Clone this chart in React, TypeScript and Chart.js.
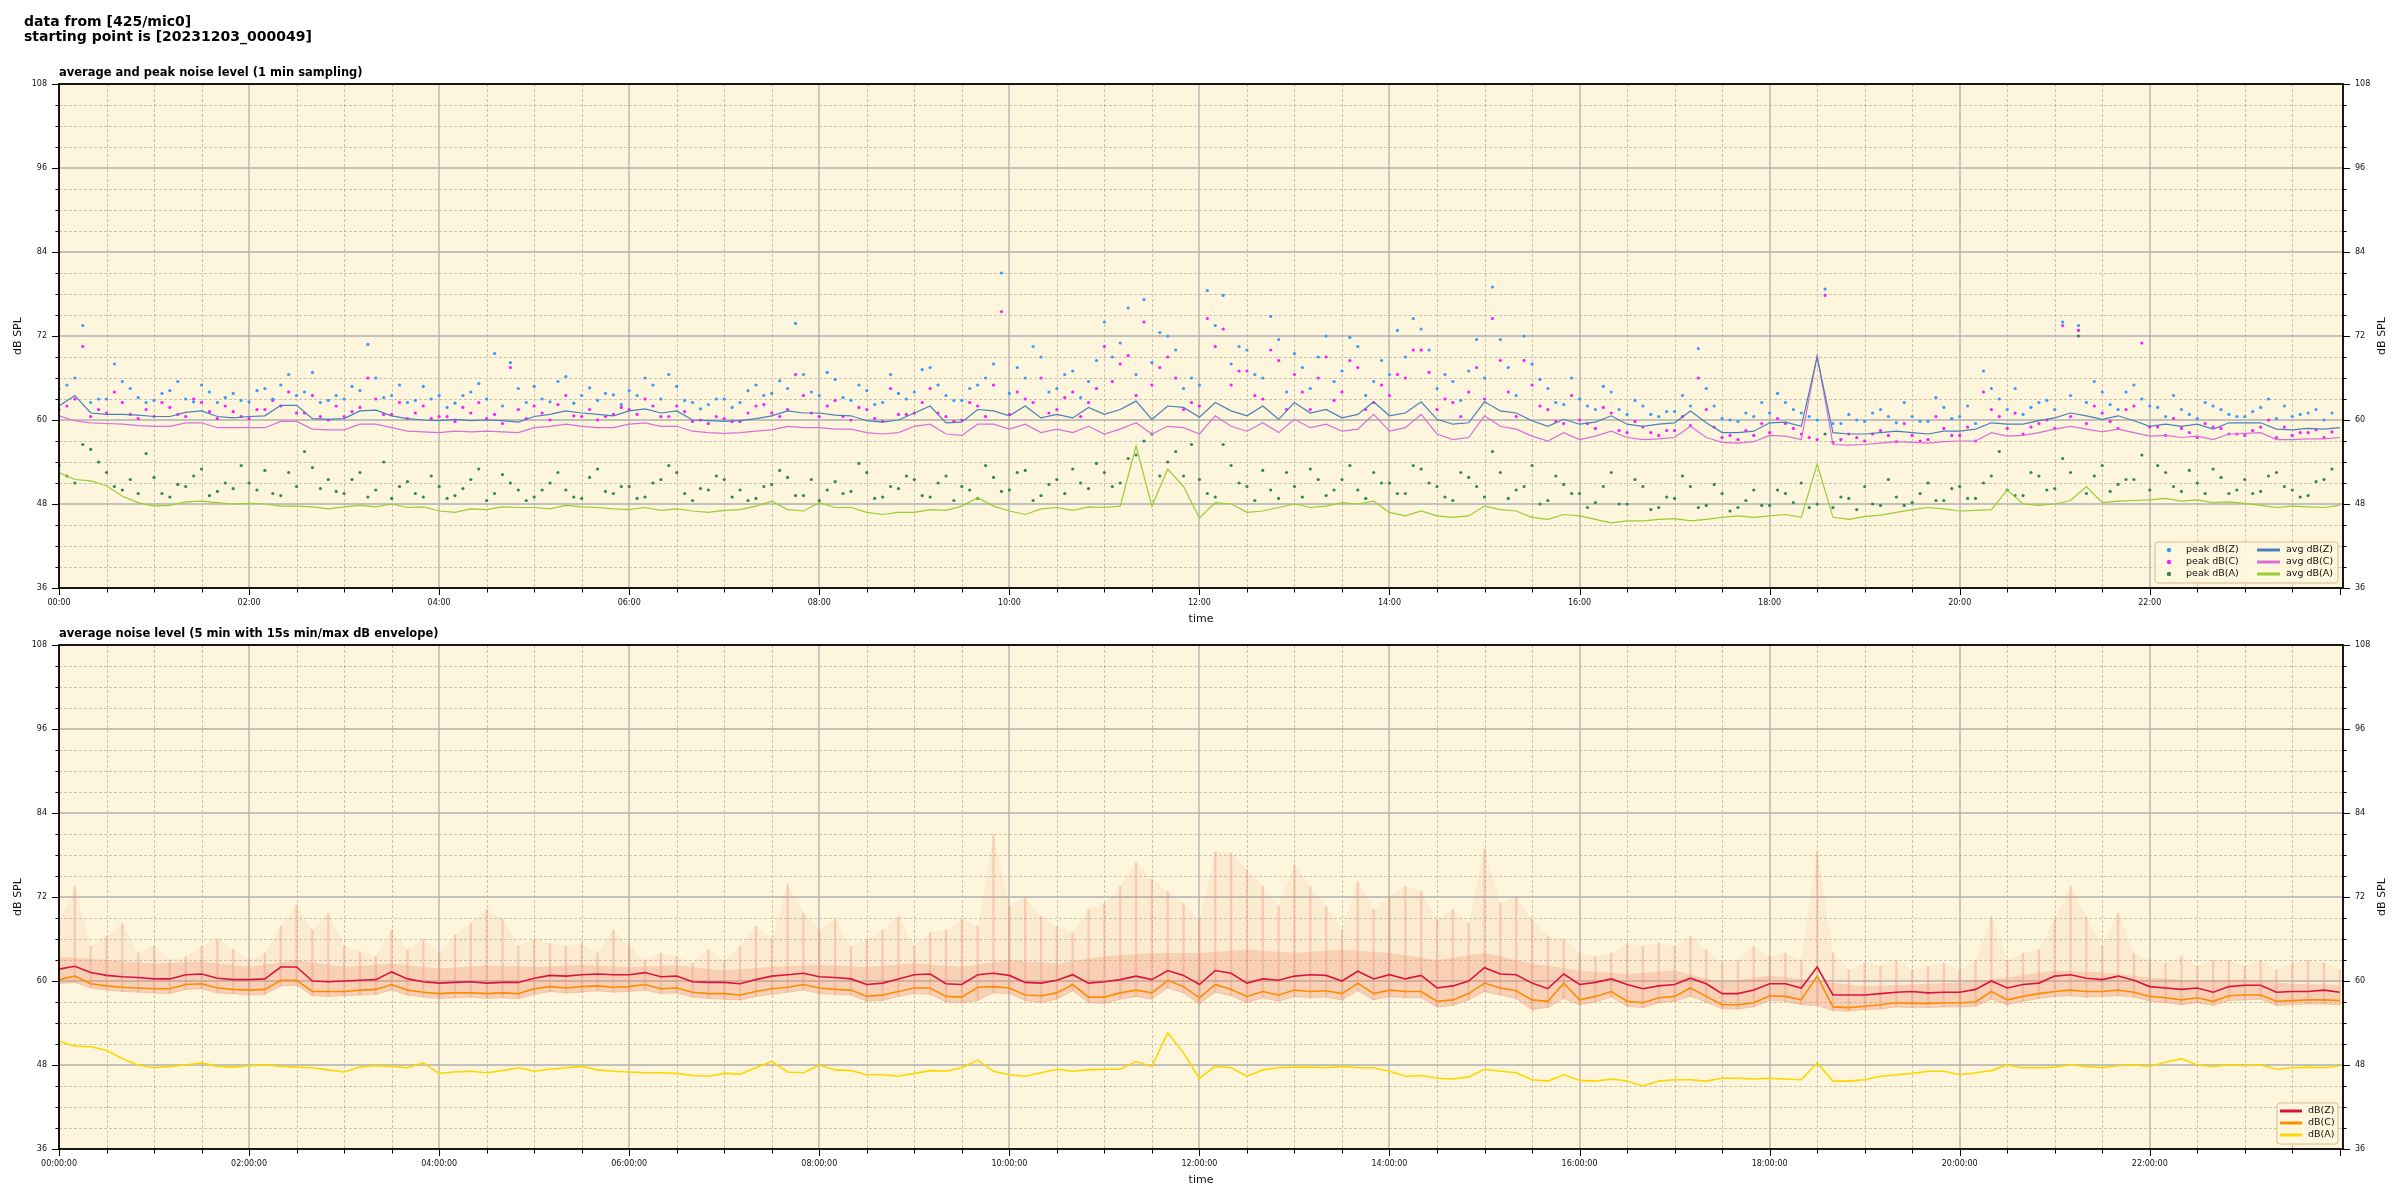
import React, { useEffect, useRef } from "react";
import { Chart, registerables } from "chart.js";
Chart.register(...registerables);

const FONT = '"DejaVu Sans", sans-serif';

// ---------- axes ----------
const X_MIN = 0;
const X_MAX = 1442; // minutes from start
const Y_MIN = 36;
const Y_MAX = 108;
const Y_TICKS = [36, 48, 60, 72, 84, 96, 108];
const X_TICKS = [0, 120, 240, 360, 480, 600, 720, 840, 960, 1080, 1200, 1320];
const X_LABELS_TOP = ["00:00", "02:00", "04:00", "06:00", "08:00", "10:00", "12:00", "14:00", "16:00", "18:00", "20:00", "22:00"];
const X_LABELS_BOTTOM = ["00:00:00", "02:00:00", "04:00:00", "06:00:00", "08:00:00", "10:00:00", "12:00:00", "14:00:00", "16:00:00", "18:00:00", "20:00:00", "22:00:00"];

// ---------- data ----------
const STEP_MIN = 10;
const PEAK_OFFSET_MIN = 5;
const TYP_STEP_MIN = 30;

// top plot: averages, every 10 min
const AVG_Z = [
  62.0, 63.5, 61.0, 60.8, 60.8, 60.7, 60.5, 60.5, 61.1, 61.3, 60.5, 60.3,
  60.5, 60.6, 62.1, 62.1, 60.2, 60.1, 60.2, 61.3, 61.4, 60.6, 60.2, 60.0,
  59.9, 60.1, 59.9, 60.0, 59.9, 59.7, 60.5, 60.8, 61.3, 61.0, 60.8, 60.6,
  61.3, 61.6, 61.0, 61.3, 60.0, 59.9, 59.8, 59.9, 60.2, 60.6, 61.3, 61.0,
  61.0, 60.7, 60.6, 59.9, 59.7, 60.0, 61.0, 62.0, 59.6, 59.7, 61.5, 61.3,
  60.6, 62.0, 60.3, 60.8, 60.3, 61.8, 60.8, 61.5, 62.7, 60.1, 62.0, 61.8,
  60.4, 62.5, 61.3, 60.6, 62.0, 60.1, 62.5, 61.0, 61.5, 60.3, 60.8, 62.6,
  60.6, 61.0, 62.6, 60.1, 59.4, 59.6, 62.6, 61.3, 61.0, 59.9, 59.1, 60.1,
  59.4, 59.7, 60.6, 59.4, 59.1, 59.4, 59.6, 61.3, 59.6, 58.2, 58.2, 58.4,
  59.6, 59.7, 59.1, 69.0, 58.2, 58.0, 58.0, 58.2, 58.4, 58.2, 58.0, 58.4,
  58.4, 58.7, 59.6, 59.4, 59.4, 59.9, 60.3, 61.0, 60.6, 60.1, 60.6, 59.9,
  59.1, 59.4, 59.1, 59.4, 58.7, 59.6, 59.6, 59.6, 58.7, 58.6, 58.8, 58.7,
  58.9,
];
const AVG_C = [
  60.6, 59.9, 59.6, 59.5, 59.4, 59.2, 59.1, 59.1, 59.6, 59.6, 58.9, 58.9,
  58.9, 58.9, 59.8, 59.8, 58.7, 58.6, 58.6, 59.4, 59.4, 58.9, 58.4, 58.3,
  58.2, 58.4, 58.3, 58.4, 58.3, 58.2, 58.9, 59.1, 59.4, 59.1, 58.9, 58.9,
  59.4, 59.6, 59.1, 59.1, 58.4, 58.2, 58.1, 58.2, 58.4, 58.6, 59.1, 58.9,
  58.9, 58.7, 58.7, 58.2, 58.0, 58.2, 59.1, 59.4, 58.0, 57.8, 59.4, 59.4,
  58.7, 59.4, 58.2, 58.7, 58.2, 59.1, 58.0, 58.7, 59.6, 58.0, 59.1, 58.9,
  58.0, 60.6, 59.1, 58.4, 59.6, 58.2, 60.1, 58.9, 59.4, 58.4, 58.7, 60.8,
  58.4, 58.9, 60.8, 58.0, 57.2, 57.5, 60.6, 59.1, 58.7, 57.7, 57.0, 58.2,
  57.2, 57.7, 58.4, 57.5, 57.2, 57.3, 57.5, 59.1, 57.5, 56.8, 56.7, 56.9,
  57.8, 57.7, 57.2, 69.2, 56.5, 56.4, 56.5, 56.7, 56.9, 56.8, 56.7, 56.9,
  57.0, 57.0, 58.2, 57.7, 57.8, 58.2, 58.7, 59.1, 58.7, 58.3, 58.7, 58.2,
  57.7, 57.8, 57.5, 57.7, 57.2, 58.0, 58.1, 58.2, 57.2, 57.2, 57.3, 57.3,
  57.5,
];
const AVG_A = [
  52.5, 51.5, 51.3, 50.6, 49.1, 48.2, 47.7, 47.8, 48.3, 48.4, 48.2, 48.0,
  48.1, 48.0, 47.7, 47.7, 47.6, 47.3, 47.6, 47.8, 47.6, 48.0, 47.5, 47.6,
  47.0, 46.8, 47.3, 47.2, 47.6, 47.5, 47.5, 47.3, 47.8, 47.6, 47.5, 47.3,
  47.2, 47.5, 47.1, 47.3, 47.0, 46.8, 47.1, 47.2, 47.7, 48.4, 47.2, 47.0,
  48.2, 47.5, 47.5, 46.8, 46.5, 46.8, 46.8, 47.2, 47.1, 47.7, 48.9, 47.7,
  47.0, 46.5, 47.3, 47.5, 47.1, 47.6, 47.5, 47.7, 56.3, 47.7, 53.0, 50.5,
  46.0, 48.2, 48.0, 46.8, 47.0, 47.5, 48.0, 47.5, 47.7, 48.2, 48.0, 48.4,
  46.8, 46.3, 47.0, 46.3, 46.1, 46.3, 47.7, 47.2, 47.0, 46.1, 45.8, 46.5,
  46.3, 45.8, 45.3, 45.6, 45.6, 45.8, 45.9, 45.6, 45.8, 46.1, 46.3, 46.1,
  46.3, 46.5, 46.1, 53.7, 46.1, 45.8, 46.2, 46.4, 46.8, 47.2, 47.5, 47.3,
  47.0, 47.1, 47.2, 50.0, 48.0, 47.8, 48.0, 48.5, 50.5, 48.2, 48.4, 48.5,
  48.6, 48.8, 48.4, 48.6, 48.2, 48.3, 48.1, 47.8, 47.5, 47.7, 47.6, 47.5,
  47.8,
];

// top plot: peaks, two samples per 10 min (at +5 min and on the 10-min mark)
const PEAK_Z = [
  65.0, 73.5, 63.0, 68.0, 64.5, 62.5, 63.8, 65.5, 62.6, 64.0, 63.2, 62.8,
  64.2, 63.0, 66.5, 64.0, 62.5, 63.5, 64.8, 70.8, 63.2, 65.0, 62.8, 63.0,
  61.8, 63.5, 65.2, 69.5, 68.2, 62.5, 63.0, 65.5, 62.4, 64.6, 63.8, 62.2,
  63.5, 65.0, 66.5, 62.8, 61.6, 63.0, 61.8, 64.2, 63.5, 65.6, 73.8, 64.0,
  66.8, 63.2, 65.0, 62.2, 66.5, 63.0, 67.2, 65.0, 62.8, 64.5, 66.0, 81.0,
  67.5, 70.5, 64.0, 66.5, 63.2, 68.5, 69.0, 76.0, 77.2, 72.5, 70.0, 66.0,
  78.5, 77.8, 70.5, 66.5, 74.8, 64.0, 67.5, 69.0, 65.5, 71.8, 63.5, 68.5,
  72.8, 74.5, 70.0, 66.5, 62.8, 71.5, 79.0, 67.5, 72.0, 65.8, 62.5, 66.0,
  62.0, 64.8, 61.5, 62.8, 60.8, 61.2, 63.5, 70.2, 62.0, 60.0, 61.0, 62.5,
  63.8, 61.5, 60.5, 78.7, 59.5, 60.0, 61.0, 60.5, 62.5, 59.8, 63.2, 60.2,
  62.0, 67.0, 63.0, 64.5, 61.8, 62.8, 74.0, 73.5, 65.5, 62.2, 64.0, 63.0,
  61.8, 63.5, 60.8, 62.5, 61.5, 60.5, 61.2, 63.0, 62.0, 60.8, 61.5, 61.0,
];
const PEAK_Z2 = [
  64.5, 66.0, 62.5, 63.0, 65.5, 63.2, 62.8, 64.2, 63.0, 65.0, 62.5, 63.8,
  62.6, 64.5, 65.0, 63.5, 66.8, 62.8, 63.0, 64.2, 66.0, 63.5, 62.5, 64.8,
  63.5, 62.4, 64.0, 63.0, 62.0, 64.5, 64.8, 62.6, 66.2, 63.5, 62.8, 63.6,
  64.2, 66.0, 63.0, 64.8, 62.5, 62.2, 63.0, 62.5, 65.0, 63.8, 64.5, 66.5,
  63.5, 65.8, 62.8, 64.2, 62.5, 63.8, 64.0, 67.5, 63.5, 62.8, 65.0, 68.0,
  63.8, 66.0, 69.0, 64.5, 67.0, 65.5, 74.0, 71.0, 66.5, 68.2, 72.0, 64.5,
  65.0, 73.5, 68.0, 70.0, 66.0, 71.5, 69.5, 64.5, 72.0, 67.0, 70.5, 65.5,
  66.5, 69.0, 73.0, 64.5, 65.5, 67.0, 66.0, 71.5, 63.5, 68.0, 64.5, 62.2,
  63.0, 61.5, 64.0, 60.8, 62.0, 60.5, 61.2, 62.0, 64.5, 60.2, 59.8, 60.5,
  61.0, 62.5, 61.0, 60.0, 59.5, 60.8, 59.8, 61.5, 59.6, 60.5, 59.8, 61.8,
  60.5, 59.5, 64.5, 61.5, 60.8, 62.5, 61.5, 63.5, 62.5, 64.0, 61.5, 65.0,
  62.0, 60.5, 61.5, 60.2, 62.0, 60.8, 60.5, 61.8, 60.2, 60.5, 61.0, 60.0,
];
const PEAK_C = [
  62.0, 70.5, 61.5, 64.0, 60.8, 61.5, 62.5, 60.8, 63.0, 61.2, 62.0, 60.5,
  61.5, 62.8, 64.0, 61.0, 60.5, 62.0, 61.2, 66.0, 60.8, 62.5, 61.0, 60.2,
  60.5, 61.8, 62.5, 60.8, 67.5, 60.2, 61.0, 62.2, 60.6, 61.5, 60.5, 61.8,
  60.8, 62.0, 60.5, 61.2, 60.0, 60.5, 59.8, 61.0, 62.2, 60.5, 66.5, 61.0,
  62.0, 60.5, 61.8, 60.2, 64.5, 60.8, 62.5, 61.0, 59.8, 62.5, 60.5, 75.5,
  64.0, 62.5, 61.0, 63.2, 60.5, 64.5, 65.5, 69.2, 74.0, 67.5, 66.0, 62.5,
  74.5, 73.0, 67.0, 63.5, 70.0, 61.5, 64.0, 66.0, 62.8, 68.5, 61.5, 65.0,
  66.5, 70.0, 66.8, 63.0, 60.5, 67.5, 74.5, 64.0, 68.5, 62.0, 59.8, 63.5,
  59.5, 61.8, 58.5, 59.8, 58.2, 58.5, 60.5, 66.0, 59.0, 57.8, 58.5, 59.5,
  60.2, 58.8, 57.5, 77.8, 57.2, 57.5, 58.0, 57.8, 59.5, 57.0, 60.5, 57.8,
  59.0, 64.0, 60.5, 61.0, 59.0, 60.0, 73.5, 72.8, 62.0, 59.8, 61.5, 71.0,
  59.0, 60.2, 58.2, 59.5, 58.8, 58.0, 58.5, 60.0, 59.0, 58.2, 58.6, 58.3,
];
const PEAK_C2 = [
  61.5, 63.0, 60.5, 61.0, 62.5, 60.2, 60.5, 61.8, 60.5, 62.5, 60.2, 61.2,
  60.2, 61.5, 62.0, 61.0, 63.5, 60.0, 60.5, 61.8, 63.0, 60.8, 60.2, 62.0,
  60.5, 59.8, 61.0, 60.2, 59.5, 61.5, 62.0, 60.0, 63.5, 60.5, 60.0, 60.8,
  61.5, 63.0, 60.5, 62.0, 59.8, 59.5, 60.2, 59.8, 62.0, 61.0, 61.5, 63.5,
  60.5, 62.8, 60.0, 61.5, 59.8, 60.8, 61.0, 64.5, 60.5, 60.0, 62.0, 65.0,
  60.8, 63.0, 66.0, 61.5, 64.0, 62.5, 70.5, 68.0, 63.5, 65.0, 69.0, 61.5,
  62.0, 70.5, 65.0, 67.0, 63.0, 68.5, 66.5, 61.5, 69.0, 64.0, 67.5, 62.5,
  63.5, 66.0, 70.0, 61.5, 62.5, 64.0, 63.0, 68.5, 60.5, 65.0, 61.5, 59.5,
  60.0, 58.8, 61.0, 58.2, 59.0, 57.8, 58.5, 59.2, 61.5, 57.5, 57.2, 57.8,
  58.2, 59.5, 58.0, 57.2, 56.8, 58.0, 57.0, 58.5, 56.9, 57.8, 57.2, 58.8,
  57.8, 57.0, 61.5, 58.8, 58.0, 59.5, 58.8, 60.5, 59.5, 61.0, 58.8, 62.0,
  59.0, 57.8, 58.8, 57.5, 59.0, 58.0, 57.8, 59.0, 57.5, 57.8, 58.2, 57.5,
];
const PEAK_A = [
  52.0, 56.5, 54.0, 50.5, 51.5, 55.2, 49.5, 50.8, 52.0, 49.2, 51.0, 53.5,
  50.0, 49.5, 52.5, 55.5, 50.2, 49.8, 51.5, 49.0, 54.0, 50.5, 49.5, 52.0,
  48.8, 50.2, 53.0, 49.5, 51.0, 48.5, 50.0, 52.5, 49.0, 51.8, 49.8, 50.5,
  48.8, 51.0, 53.5, 49.5, 50.2, 52.0, 49.0, 48.5, 50.5, 52.8, 49.2, 51.5,
  50.0, 49.5, 53.8, 48.8, 50.5, 52.0, 49.2, 51.0, 48.5, 50.0, 53.5, 49.8,
  52.5, 48.5, 50.8, 49.5, 51.0, 53.8, 50.5, 54.5, 57.0, 52.0, 55.5, 56.5,
  49.5, 56.5, 51.0, 48.5, 50.0, 52.5, 49.0, 51.5, 50.0, 53.5, 48.8, 51.0,
  49.5, 53.5, 51.0, 49.0, 52.5, 50.5, 55.5, 48.8, 50.5, 48.0, 52.0, 49.5,
  47.5, 50.5, 48.0, 51.5, 47.2, 49.0, 52.0, 47.5, 50.8, 47.0, 48.5, 47.8,
  50.0, 48.2, 47.5, 58.0, 49.0, 47.2, 48.0, 51.5, 47.8, 49.5, 48.5, 50.2,
  48.8, 51.0, 55.5, 49.2, 52.5, 50.0, 54.5, 72.0, 52.0, 49.8, 51.5, 55.0,
  53.5, 50.5, 52.8, 49.5, 51.8, 50.0, 49.5, 52.0, 50.5, 49.0, 51.2, 53.0,
];
const PEAK_A2 = [
  53.5, 51.0, 55.8, 52.5, 50.0, 49.5, 51.8, 49.0, 50.5, 53.0, 49.8, 50.2,
  51.0, 52.8, 49.2, 50.5, 53.2, 51.5, 49.5, 52.5, 50.0, 48.8, 51.2, 49.0,
  50.5, 49.2, 51.5, 48.5, 52.2, 50.0, 49.0, 51.0, 50.0, 48.8, 53.0, 49.5,
  50.5, 49.0, 51.5, 52.5, 48.5, 50.0, 51.5, 50.0, 48.8, 50.8, 51.8, 49.2,
  48.5, 51.2, 49.8, 52.5, 49.0, 50.2, 51.5, 49.0, 52.0, 50.5, 48.8, 51.8,
  50.0, 52.8, 49.2, 51.5, 53.0, 50.2, 52.5, 51.0, 55.0, 58.0, 54.0, 52.0,
  51.5, 49.0, 53.5, 50.5, 52.8, 48.8, 50.5, 53.0, 49.2, 51.5, 50.0, 52.5,
  51.0, 49.5, 53.0, 50.5, 48.5, 51.8, 49.0, 52.5, 50.0, 53.5, 48.5, 50.8,
  49.5, 48.2, 52.5, 48.0, 50.5, 47.5, 48.8, 50.5, 47.8, 49.5, 47.5, 50.0,
  47.8, 49.5, 51.0, 48.0, 47.5, 48.8, 50.5, 47.8, 49.0, 48.2, 51.0, 48.5,
  50.5, 48.8, 52.0, 50.0, 49.2, 52.0, 50.2, 52.5, 49.5, 53.5, 50.8, 51.5,
  50.0, 52.5, 49.8, 51.0, 53.0, 49.5, 51.5, 49.8, 52.5, 50.0, 49.2, 51.5,
];

// bottom plot: 5-min averages, every 10 min
const DB_Z = [
  61.7, 62.1, 61.2, 60.8, 60.6, 60.5, 60.3, 60.3, 60.9, 61.0, 60.4, 60.2,
  60.2, 60.3, 62.0, 62.0, 60.0, 59.9, 60.0, 60.1, 60.2, 61.3, 60.3, 59.9,
  59.7, 59.8, 59.9, 59.7, 59.8, 59.8, 60.4, 60.8, 60.7, 60.9, 61.0, 60.9,
  60.9, 61.2, 60.6, 60.7, 59.9, 59.8, 59.8, 59.6, 60.2, 60.7, 60.9, 61.1,
  60.6, 60.5, 60.3, 59.5, 59.7, 60.3, 60.9, 61.0, 59.6, 59.5, 60.9, 61.1,
  60.8, 59.8, 59.7, 60.1, 60.9, 59.7, 59.9, 60.2, 60.7, 60.2, 61.5, 60.8,
  59.5, 61.5, 61.1, 59.7, 60.3, 60.1, 60.7, 60.9, 60.8, 60.0, 61.4, 60.3,
  60.9, 60.3, 60.8, 59.0, 59.3, 60.0, 61.9, 61.0, 60.9, 59.7, 58.9, 61.0,
  59.5, 59.8, 60.3, 59.5, 58.9, 59.3, 59.5, 60.4, 59.6, 58.2, 58.2, 58.7,
  59.6, 59.6, 59.0, 62.0, 58.0, 58.0, 58.0, 58.2, 58.4, 58.5, 58.3, 58.4,
  58.4, 58.8, 60.0, 59.0, 59.5, 59.7, 60.7, 60.9, 60.4, 60.2, 60.7, 60.1,
  59.2, 59.0, 58.8, 59.0, 58.4, 59.2, 59.4, 59.4, 58.4, 58.5, 58.5, 58.7,
  58.4,
];
const DB_C = [
  60.2, 60.7, 59.6, 59.3, 59.1, 59.0, 58.9, 58.9, 59.5, 59.6, 59.0, 58.8,
  58.7, 58.8, 60.1, 60.1, 58.5, 58.5, 58.5, 58.7, 58.8, 59.5, 58.7, 58.4,
  58.2, 58.3, 58.3, 58.2, 58.3, 58.2, 58.9, 59.2, 59.0, 59.2, 59.3, 59.1,
  59.2, 59.5, 58.9, 59.0, 58.4, 58.2, 58.2, 58.0, 58.5, 58.9, 59.1, 59.5,
  59.0, 58.8, 58.7, 57.8, 58.0, 58.5, 59.0, 59.0, 57.8, 57.7, 59.1, 59.2,
  59.0, 58.0, 57.9, 58.3, 59.5, 57.7, 57.7, 58.3, 58.7, 58.3, 60.1, 59.2,
  57.6, 59.5, 58.8, 57.8, 58.5, 58.0, 58.7, 58.5, 58.6, 58.2, 59.7, 58.2,
  58.7, 58.5, 58.5, 57.1, 57.3, 58.2, 59.7, 59.0, 58.6, 57.3, 57.1, 59.7,
  57.3, 57.8, 58.5, 57.1, 56.9, 57.6, 57.8, 59.0, 57.8, 56.6, 56.6, 56.9,
  57.9, 57.8, 57.3, 60.7, 56.3, 56.2, 56.4, 56.6, 56.9, 56.8, 56.8, 56.9,
  56.9, 57.0, 58.5, 57.3, 57.8, 58.2, 58.5, 58.7, 58.5, 58.5, 58.7, 58.4,
  57.8, 57.6, 57.3, 57.6, 57.1, 57.9, 58.0, 58.0, 57.1, 57.2, 57.3, 57.3,
  57.2,
];
const DB_A = [
  51.4, 50.7, 50.6, 50.1, 48.9, 48.0, 47.6, 47.8, 48.0, 48.3, 47.8, 47.7,
  47.9, 48.0, 47.8, 47.7, 47.6, 47.3, 47.0, 47.7, 47.9, 47.8, 47.6, 48.3,
  46.8, 47.0, 47.1, 46.9, 47.2, 47.6, 47.1, 47.4, 47.6, 47.8, 47.3, 47.1,
  47.0, 46.9, 46.9, 46.8, 46.5, 46.4, 46.8, 46.7, 47.6, 48.5, 47.0, 46.9,
  48.0, 47.3, 47.2, 46.6, 46.6, 46.4, 46.8, 47.2, 47.1, 47.6, 48.7, 47.1,
  46.6, 46.4, 46.9, 47.4, 47.1, 47.3, 47.4, 47.4, 48.5, 47.8, 52.6, 49.7,
  46.1, 47.8, 47.6, 46.4, 47.3, 47.6, 47.7, 47.7, 47.6, 47.8, 47.6, 47.6,
  47.1, 46.4, 46.5, 46.1, 46.0, 46.3, 47.4, 47.1, 46.9, 45.9, 45.7, 46.6,
  45.8, 45.7, 46.0, 45.7, 45.0, 45.7, 45.9, 45.9, 45.7, 46.1, 46.1, 46.0,
  46.1, 46.0, 45.9, 48.3, 45.7, 45.7, 45.9, 46.4, 46.6, 46.8, 47.1, 47.1,
  46.6, 46.9, 47.2, 48.0, 47.6, 47.6, 47.7, 48.0, 47.8, 47.6, 47.9, 48.0,
  47.8, 48.4, 48.9, 48.0, 47.8, 48.0, 47.9, 48.0, 47.4, 47.6, 47.7, 47.6,
  47.9,
];
// bottom plot: 15 s min/max envelope (highest spike and lowest value per 10 min)
const ENV_MAX = [
  68.3, 73.5, 65.0, 66.4, 68.2, 64.0, 65.0, 63.0, 63.5, 65.0, 66.0, 64.5,
  63.0, 64.0, 67.8, 70.9, 67.3, 69.7, 65.0, 64.2, 63.5, 67.3, 64.5, 66.0,
  64.0, 66.6, 68.3, 70.2, 68.8, 65.0, 66.0, 65.4, 65.0, 65.4, 64.0, 67.3,
  65.0, 63.0, 64.0, 63.5, 62.6, 64.5, 63.0, 65.0, 67.8, 66.0, 73.8, 69.7,
  67.3, 68.8, 65.0, 66.0, 67.3, 69.2, 65.0, 66.9, 67.3, 68.8, 67.8, 80.9,
  70.7, 71.9, 69.2, 67.8, 66.9, 70.2, 71.1, 73.5, 76.9, 74.5, 72.8, 71.1,
  68.8, 78.5, 78.3, 75.9, 73.5, 70.7, 76.6, 73.5, 70.7, 67.3, 74.2, 70.2,
  72.1, 73.5, 72.8, 68.8, 70.2, 68.3, 78.9, 71.1, 72.1, 68.8, 66.4, 66.0,
  64.0, 63.5, 64.0, 65.4, 65.0, 65.4, 65.0, 66.4, 64.5, 62.6, 63.0, 65.0,
  63.5, 64.0, 63.0, 78.5, 64.0, 61.6, 62.6, 62.1, 63.0, 61.6, 62.1, 62.6,
  61.6, 63.0, 69.2, 63.0, 64.0, 64.5, 68.8, 73.5, 69.2, 65.0, 69.7, 64.0,
  63.0, 62.6, 63.5, 62.1, 63.0, 63.0, 62.1, 63.0, 61.6, 62.6, 63.0, 62.6,
  61.6,
];
const ENV_MIN = [
  59.6, 59.8, 59.0, 58.7, 58.5, 58.4, 58.3, 58.2, 58.8, 58.9, 58.3, 58.2,
  58.0, 58.1, 59.3, 59.4, 57.9, 57.8, 57.9, 58.0, 58.1, 58.7, 58.0, 57.7,
  57.5, 57.6, 57.7, 57.5, 57.6, 57.5, 58.1, 58.5, 58.3, 58.4, 58.6, 58.4,
  58.5, 58.7, 58.2, 58.3, 57.7, 57.5, 57.4, 57.3, 57.8, 58.1, 58.4, 58.7,
  58.2, 58.1, 58.0, 57.1, 57.2, 57.8, 58.2, 58.1, 57.0, 56.9, 57.2, 58.3,
  58.2, 57.2, 56.9, 57.4, 58.6, 56.9, 56.8, 57.4, 57.8, 57.4, 59.0, 58.3,
  56.7, 58.4, 57.9, 56.9, 57.6, 57.1, 57.8, 57.6, 57.7, 57.3, 58.6, 57.3,
  57.8, 57.6, 57.6, 56.3, 56.5, 57.3, 58.5, 58.0, 57.5, 55.9, 56.2, 57.5,
  56.6, 57.0, 57.7, 56.4, 56.2, 56.9, 57.1, 57.8, 57.0, 56.0, 56.0, 56.3,
  57.2, 57.1, 56.6, 56.5, 55.8, 55.7, 55.9, 56.0, 56.3, 56.2, 56.2, 56.3,
  56.3, 56.4, 57.4, 56.6, 57.1, 57.5, 57.8, 57.9, 57.7, 57.8, 57.9, 57.7,
  57.1, 56.9, 56.6, 56.9, 56.5, 57.2, 57.3, 57.4, 56.5, 56.6, 56.7, 56.7,
  56.6,
];
// upper edge of the dense part of the envelope, every 30 min
const ENV_TYP = [
  63.5, 63.0, 62.5, 62.8, 62.0, 63.0, 62.0, 62.5, 61.8, 62.2, 62.0, 62.3,
  62.0, 62.2, 61.5, 62.0, 62.3, 62.0, 62.5, 62.0, 63.0, 62.5, 63.5, 64.0,
  64.0, 64.5, 64.0, 64.5, 64.0, 63.0, 64.0, 62.5, 61.5, 61.0, 61.5, 59.8,
  60.8, 60.0, 59.2, 59.5, 59.8, 60.5, 61.5, 61.2, 60.5, 60.0, 60.2, 59.6,
  59.4,
];

const TIMES = AVG_Z.map((_, i) => i * STEP_MIN);
const PEAK_TIMES = PEAK_Z.map((_, i) => PEAK_OFFSET_MIN + i * STEP_MIN);
const PEAK_TIMES2 = PEAK_Z2.map((_, i) => i * STEP_MIN);
const TYP_TIMES = ENV_TYP.map((_, i) => i * TYP_STEP_MIN);

// ---------- styles ----------
const BG = "#fdf5dc";
const MAJOR_GRID = "#b0b0b0";
const MINOR_GRID = "rgba(160,155,145,0.7)";
const C_PEAK_Z = "#3a9bff";
const C_PEAK_C = "#ff1aff";
const C_PEAK_A = "#2e8b57";
const C_AVG_Z = "#4a80b6";
const C_AVG_C = "#da70d6";
const C_AVG_A = "#9acd32";
const C_DB_Z = "#dc143c";
const C_DB_C = "#ff8c00";
const C_DB_A = "#ffd700";

const pts = (xs: number[], ys: number[]) => ys.map((y, i) => ({ x: xs[i], y }));

type LegendItem = { kind: "dot" | "line"; color: string; text: string; mx: number; tx: number; row: number };
type LegendSpec = { w: number; h: number; mr: number; mb: number; lineW: number; rows: number[]; items: LegendItem[] };

function makeDecor(legend: LegendSpec) {
  return {
    id: "decor",
    beforeDatasetsDraw(chart: any) {
      const { ctx, chartArea: a } = chart;
      const xs = chart.scales.x;
      const ys = chart.scales.y;
      ctx.save();
      ctx.fillStyle = BG;
      ctx.fillRect(a.left, a.top, a.right - a.left, a.bottom - a.top);
      ctx.lineWidth = 0.8;
      ctx.strokeStyle = MINOR_GRID;
      ctx.setLineDash([3, 2]);
      ctx.beginPath();
      for (let v = Y_MIN + 3; v < Y_MAX; v += 3) {
        if ((v - Y_MIN) % 12 === 0) continue;
        const p = Math.round(ys.getPixelForValue(v)) + 0.5;
        ctx.moveTo(a.left, p);
        ctx.lineTo(a.right, p);
      }
      for (let t = 30; t < X_MAX; t += 30) {
        if (t % 120 === 0) continue;
        const p = Math.round(xs.getPixelForValue(t)) + 0.5;
        ctx.moveTo(p, a.top);
        ctx.lineTo(p, a.bottom);
      }
      ctx.stroke();
      ctx.setLineDash([]);
      ctx.lineWidth = 1.3;
      ctx.strokeStyle = MAJOR_GRID;
      ctx.beginPath();
      for (const v of Y_TICKS) {
        if (v === Y_MIN || v === Y_MAX) continue;
        const p = Math.round(ys.getPixelForValue(v));
        ctx.moveTo(a.left, p);
        ctx.lineTo(a.right, p);
      }
      for (const t of X_TICKS) {
        if (t === 0) continue;
        const p = Math.round(xs.getPixelForValue(t));
        ctx.moveTo(p, a.top);
        ctx.lineTo(p, a.bottom);
      }
      ctx.stroke();
      ctx.restore();
    },
    afterDatasetsDraw(chart: any) {
      const { ctx, chartArea: a } = chart;
      const xs = chart.scales.x;
      const ys = chart.scales.y;
      ctx.save();
      ctx.strokeStyle = "#000";
      ctx.lineWidth = 1.8;
      ctx.strokeRect(a.left, a.top, a.right - a.left, a.bottom - a.top);
      ctx.lineWidth = 1;
      ctx.beginPath();
      for (let v = Y_MIN; v <= Y_MAX; v += 3) {
        const major = (v - Y_MIN) % 12 === 0;
        const len = major ? 7 : 3.5;
        const p = Math.round(ys.getPixelForValue(v)) + 0.5;
        ctx.moveTo(a.left - len, p);
        ctx.lineTo(a.left, p);
        ctx.moveTo(a.right, p);
        ctx.lineTo(a.right + len, p);
      }
      for (let t = 0; t < X_MAX; t += 30) {
        const major = t % 120 === 0;
        const len = major ? 7 : 4.5;
        const p = Math.round(xs.getPixelForValue(t)) + 0.5;
        ctx.moveTo(p, a.bottom);
        ctx.lineTo(p, a.bottom + len);
      }
      ctx.stroke();

      ctx.fillStyle = "#111";
      ctx.font = `11px ${FONT}`;
      ctx.textAlign = "center";
      ctx.textBaseline = "middle";
      ctx.fillText("time", (a.left + a.right) / 2, a.bottom + 31.5);
      const midY = (a.top + a.bottom) / 2;
      ctx.save();
      ctx.translate(18, midY);
      ctx.rotate(-Math.PI / 2);
      ctx.fillText("dB SPL", 0, 0);
      ctx.restore();
      ctx.save();
      ctx.translate(2382, midY);
      ctx.rotate(-Math.PI / 2);
      ctx.fillText("dB SPL", 0, 0);
      ctx.restore();

      const bx = a.right - legend.mr - legend.w;
      const by = a.bottom - legend.mb - legend.h;
      ctx.beginPath();
      const r = 3;
      ctx.moveTo(bx + r, by);
      ctx.arcTo(bx + legend.w, by, bx + legend.w, by + legend.h, r);
      ctx.arcTo(bx + legend.w, by + legend.h, bx, by + legend.h, r);
      ctx.arcTo(bx, by + legend.h, bx, by, r);
      ctx.arcTo(bx, by, bx + legend.w, by, r);
      ctx.closePath();
      ctx.fillStyle = "rgba(255,247,222,0.85)";
      ctx.fill();
      ctx.strokeStyle = "rgba(215,180,130,0.9)";
      ctx.lineWidth = 1;
      ctx.stroke();
      ctx.font = `9.5px ${FONT}`;
      ctx.textAlign = "left";
      ctx.textBaseline = "middle";
      for (const it of legend.items) {
        const cy = by + legend.rows[it.row];
        if (it.kind === "dot") {
          ctx.fillStyle = it.color;
          ctx.beginPath();
          ctx.arc(bx + it.mx, cy, 2.2, 0, Math.PI * 2);
          ctx.fill();
        } else {
          ctx.strokeStyle = it.color;
          ctx.lineWidth = 3;
          ctx.beginPath();
          ctx.moveTo(bx + it.mx, cy);
          ctx.lineTo(bx + it.mx + legend.lineW, cy);
          ctx.stroke();
        }
        ctx.fillStyle = "#111";
        ctx.fillText(it.text, bx + it.tx, cy);
      }
      ctx.restore();
    },
  };
}

function scalesFor(labels: string[], xHeight: number) {
  const yCommon = (pos: "left" | "right", w: number) => ({
    type: "linear" as const,
    position: pos,
    min: Y_MIN,
    max: Y_MAX,
    grid: { display: false, drawTicks: false },
    border: { display: false },
    afterBuildTicks: (s: any) => {
      s.ticks = Y_TICKS.map((v) => ({ value: v }));
    },
    afterFit: (s: any) => {
      s.width = w;
    },
    ticks: {
      padding: 12,
      color: "#111",
      font: { family: FONT, size: 8 },
      callback: (v: any) => String(v),
    },
  });
  return {
    x: {
      type: "linear" as const,
      min: X_MIN,
      max: X_MAX,
      offset: false,
      grid: { display: false, drawTicks: false, offset: false },
      border: { display: false },
      afterBuildTicks: (s: any) => {
        s.ticks = X_TICKS.map((v) => ({ value: v }));
      },
      afterFit: (s: any) => {
        s.height = xHeight;
      },
      ticks: {
        autoSkip: false,
        maxRotation: 0,
        padding: 10.5,
        color: "#111",
        font: { family: FONT, size: 8 },
        callback: (_v: any, i: number) => labels[i] ?? "",
      },
    },
    y: yCommon("left", 59),
    y2: yCommon("right", 57),
  };
}

const baseOptions = (padTop: number, labels: string[], xHeight: number) => ({
  responsive: false,
  animation: false,
  devicePixelRatio: 1,
  layout: { padding: { top: padTop, bottom: 0, left: 0, right: 0 } },
  plugins: { legend: { display: false }, tooltip: { enabled: false }, title: { display: false } },
  scales: scalesFor(labels, xHeight),
});

function topConfig(): any {
  const lineDs = (label: string, data: number[], color: string) => ({
    type: "line",
    label,
    data: pts(TIMES, data),
    borderColor: color,
    backgroundColor: color,
    borderWidth: 1.2,
    pointRadius: 0,
    tension: 0,
    fill: false,
  });
  const peakDs = (label: string, xs: number[], data: number[], color: string) => ({
    type: "scatter",
    label,
    data: pts(xs, data),
    backgroundColor: color,
    borderColor: color,
    borderWidth: 0,
    pointRadius: 1.6,
    showLine: false,
  });
  const legend: LegendSpec = {
    w: 183,
    h: 41,
    mr: 5,
    mb: 5,
    lineW: 23,
    rows: [8, 20, 32],
    items: [
      { kind: "dot", color: C_PEAK_Z, text: "peak dB(Z)", mx: 14, tx: 31, row: 0 },
      { kind: "dot", color: C_PEAK_C, text: "peak dB(C)", mx: 14, tx: 31, row: 1 },
      { kind: "dot", color: C_PEAK_A, text: "peak dB(A)", mx: 14, tx: 31, row: 2 },
      { kind: "line", color: C_AVG_Z, text: "avg dB(Z)", mx: 102, tx: 131, row: 0 },
      { kind: "line", color: C_AVG_C, text: "avg dB(C)", mx: 102, tx: 131, row: 1 },
      { kind: "line", color: C_AVG_A, text: "avg dB(A)", mx: 102, tx: 131, row: 2 },
    ],
  };
  return {
    type: "line",
    data: {
      datasets: [
        lineDs("avg dB(Z)", AVG_Z, C_AVG_Z),
        lineDs("avg dB(C)", AVG_C, C_AVG_C),
        lineDs("avg dB(A)", AVG_A, C_AVG_A),
        peakDs("peak dB(Z)", PEAK_TIMES, PEAK_Z, C_PEAK_Z),
        peakDs("peak dB(Z) ", PEAK_TIMES2, PEAK_Z2, C_PEAK_Z),
        peakDs("peak dB(C)", PEAK_TIMES, PEAK_C, C_PEAK_C),
        peakDs("peak dB(C) ", PEAK_TIMES2, PEAK_C2, C_PEAK_C),
        peakDs("peak dB(A)", PEAK_TIMES, PEAK_A, C_PEAK_A),
        peakDs("peak dB(A) ", PEAK_TIMES2, PEAK_A2, C_PEAK_A),
      ],
    },
    options: baseOptions(44, X_LABELS_TOP, 52),
    plugins: [makeDecor(legend)],
  };
}

function bottomConfig(): any {
  const lineDs = (label: string, data: number[], color: string) => ({
    type: "line",
    label,
    data: pts(TIMES, data),
    borderColor: color,
    backgroundColor: color,
    borderWidth: 1.6,
    pointRadius: 0,
    tension: 0,
    fill: false,
  });
  const legend: LegendSpec = {
    w: 61,
    h: 41,
    mr: 5,
    mb: 5,
    lineW: 22,
    rows: [8, 20, 32],
    items: [
      { kind: "line", color: C_DB_Z, text: "dB(Z)", mx: 3, tx: 31, row: 0 },
      { kind: "line", color: C_DB_C, text: "dB(C)", mx: 3, tx: 31, row: 1 },
      { kind: "line", color: C_DB_A, text: "dB(A)", mx: 3, tx: 31, row: 2 },
    ],
  };
  const MIN_INDEX = 6;
  return {
    type: "line",
    data: {
      datasets: [
        lineDs("dB(Z)", DB_Z, C_DB_Z),
        lineDs("dB(C)", DB_C, C_DB_C),
        lineDs("dB(A)", DB_A, C_DB_A),
        {
          type: "bar",
          label: "env spikes",
          data: ENV_MAX.map((hi, i) => ({ x: TIMES[i], y: [ENV_MIN[i], hi] })),
          backgroundColor: "rgba(238,150,120,0.38)",
          borderWidth: 0,
          barThickness: 1.6,
          grouped: false,
        },
        {
          type: "line",
          label: "env typical",
          data: pts(TYP_TIMES, ENV_TYP),
          borderColor: "rgba(0,0,0,0)",
          backgroundColor: "rgba(240,145,115,0.3)",
          borderWidth: 0.01,
          pointRadius: 0,
          fill: { target: MIN_INDEX },
        },
        {
          type: "line",
          label: "env max",
          data: pts(TIMES, ENV_MAX),
          borderColor: "rgba(0,0,0,0)",
          backgroundColor: "rgba(240,145,115,0.1)",
          borderWidth: 0.01,
          pointRadius: 0,
          fill: { target: MIN_INDEX },
        },
        {
          type: "line",
          label: "env min",
          data: pts(TIMES, ENV_MIN),
          borderColor: "rgba(240,150,120,0.35)",
          borderWidth: 1,
          pointRadius: 0,
          fill: false,
        },
      ],
    },
    options: baseOptions(45, X_LABELS_BOTTOM, 51),
    plugins: [makeDecor(legend)],
  };
}

export default function App() {
  const topRef = useRef<HTMLCanvasElement>(null);
  const botRef = useRef<HTMLCanvasElement>(null);
  useEffect(() => {
    const c1 = new Chart(topRef.current as HTMLCanvasElement, topConfig());
    const c2 = new Chart(botRef.current as HTMLCanvasElement, bottomConfig());
    return () => {
      c1.destroy();
      c2.destroy();
    };
  }, []);
  const titleStyle: React.CSSProperties = {
    position: "absolute",
    fontFamily: FONT,
    fontWeight: "bold",
    fontSize: 11.5,
    lineHeight: "14px",
    color: "#000",
    whiteSpace: "pre",
    zIndex: 2,
  };
  return (
    <div style={{ position: "absolute", left: 0, top: 0, width: 2400, height: 1200, background: "#fff", overflow: "hidden" }}>
      <canvas ref={topRef} width={2400} height={600} style={{ position: "absolute", left: 0, top: 40, width: 2400, height: 600 }} />
      <canvas ref={botRef} width={2400} height={600} style={{ position: "absolute", left: 0, top: 600, width: 2400, height: 600 }} />
      <div style={{ ...titleStyle, left: 24, top: 14, fontSize: 14, lineHeight: "14.5px" }}>{"data from [425/mic0]\nstarting point is [20231203_000049]"}</div>
      <div style={{ ...titleStyle, left: 59, top: 64.5 }}>average and peak noise level (1 min sampling)</div>
      <div style={{ ...titleStyle, left: 59, top: 626 }}>average noise level (5 min with 15s min/max dB envelope)</div>
    </div>
  );
}
